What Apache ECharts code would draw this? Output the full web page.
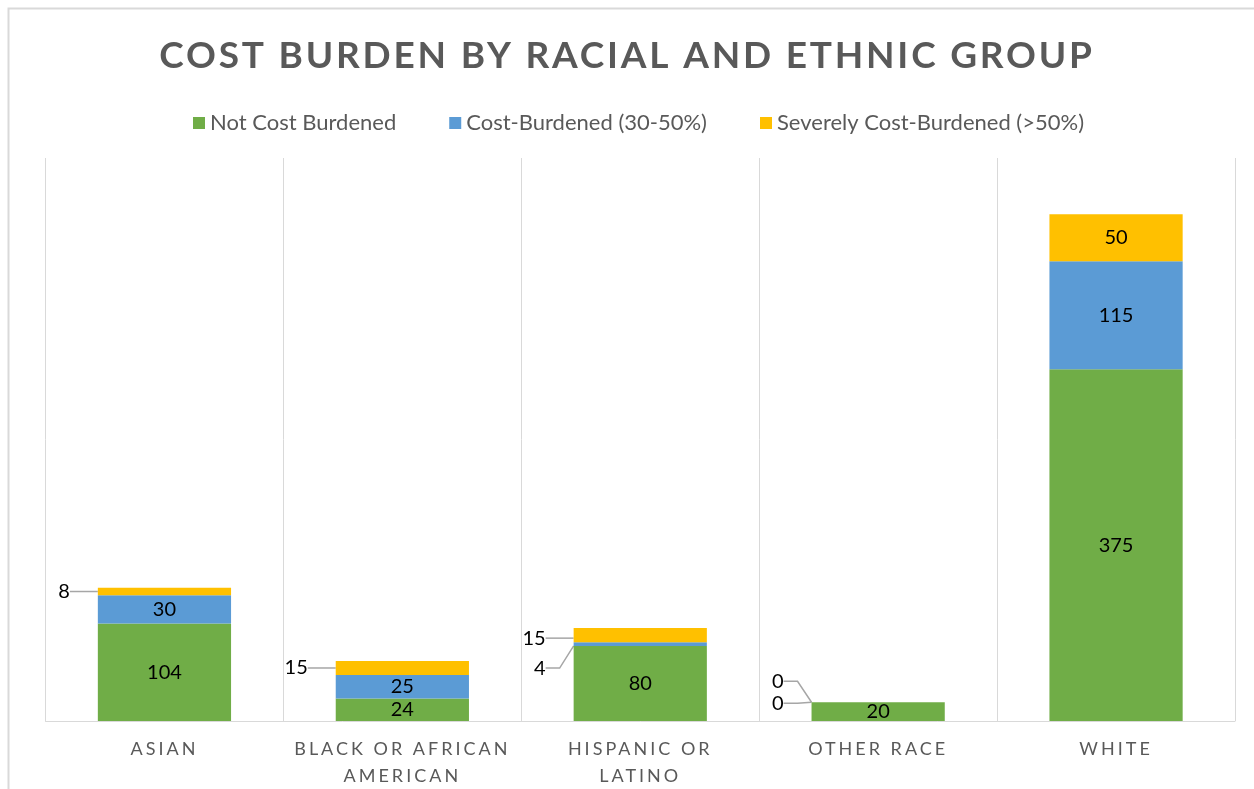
<!DOCTYPE html>
<html>
<head>
<meta charset="utf-8">
<script src="https://cdn.jsdelivr.net/npm/echarts@6/dist/echarts.min.js"></script>
<style>
html,body{margin:0;padding:0;background:#fff;}
#chart{width:1254px;height:789px;}
</style>
</head>
<body>
<div id="chart"></div>
<script>
// ---- data ----
const categories = ['ASIAN', 'BLACK OR AFRICAN\nAMERICAN', 'HISPANIC OR\nLATINO', 'OTHER RACE', 'WHITE'];
const seriesNames = ['Not Cost Burdened', 'Cost-Burdened (30-50%)', 'Severely Cost-Burdened (>50%)'];
const notBurdened = [104, 24, 80, 20, 375];
const costBurdened = [30, 25, 4, 0, 115];
const severelyBurdened = [8, 15, 15, 0, 50];
const chartTitle = 'COST BURDEN BY RACIAL AND ETHNIC GROUP';

// ---- letter spacing for title and category labels (canvas) ----
const TITLE_SIZE = 37, AXIS_SIZE = 18;
const TITLE_LS = '2.8px', AXIS_LS = '3px';
(function () {
  const proto = CanvasRenderingContext2D.prototype;
  const orig = proto.fillText;
  proto.fillText = function () {
    const f = this.font || '';
    let ls = '0px';
    if (f.indexOf(TITLE_SIZE + 'px') >= 0) ls = TITLE_LS;
    else if (f.indexOf(AXIS_SIZE + 'px') >= 0) ls = AXIS_LS;
    this.letterSpacing = ls;
    const r = orig.apply(this, arguments);
    this.letterSpacing = '0px';
    return r;
  };
})();

const colors = ['#70ad47', '#5b9bd5', '#ffc000'];
const allValues = [notBurdened, costBurdened, severelyBurdened];
const OUTSIDE_LIMIT = 20;
// vertical nudges of outside labels: "series-dataIndex" -> px
const labelNudge = { '1-2': 24, '1-3': 1, '2-2': 3, '2-3': -21 };

function buildData(values) {
  return values.map(function (v) {
    const outside = v < OUTSIDE_LIMIT;
    return {
      value: v,
      label: outside ? { padding: [0, 8, 0, 0] } : {},
      labelLine: { show: outside }
    };
  });
}

const chart = echarts.init(document.getElementById('chart'), null, { renderer: 'canvas' });
const FONT = 'Lato';

chart.setOption({
  animation: false,
  backgroundColor: '#ffffff',
  title: {
    text: chartTitle,
    left: 'center',
    top: 36,
    padding: 0,
    textStyle: { fontFamily: FONT, fontSize: TITLE_SIZE, fontWeight: 'bold', color: '#595959', lineHeight: 40 }
  },
  legend: {
    data: seriesNames,
    top: 111,
    left: 193,
    padding: 0,
    itemWidth: 12,
    itemHeight: 12,
    itemGap: 53,
    icon: 'rect',
    textStyle: { fontFamily: FONT, fontSize: 22, color: '#595959', lineHeight: 24 }
  },
  grid: { left: 45.5, right: 19, top: 158, bottom: 68, containLabel: false, outerBoundsMode: 'none' },
  xAxis: {
    type: 'category',
    data: categories,
    axisLine: { show: true, lineStyle: { color: '#d9d9d9', width: 1 } },
    axisTick: { show: false },
    splitLine: { show: true, interval: 0, lineStyle: { color: '#d9d9d9', width: 1 } },
    axisLabel: { interval: 0, margin: 15, fontFamily: FONT, fontSize: AXIS_SIZE, color: '#595959', lineHeight: 27 }
  },
  yAxis: {
    type: 'value',
    min: 0,
    max: 600,
    show: false,
    splitLine: { show: false }
  },
  graphic: [{
    type: 'polyline',
    shape: { points: [[8.5, 800], [8.5, 8.5], [1260, 8.5]] },
    style: { stroke: '#d9d9d9', lineWidth: 2, fill: null },
    silent: true
  }],
  series: allValues.map(function (vals, i) {
    return {
      name: seriesNames[i],
      type: 'bar',
      stack: 'total',
      barWidth: '56%',
      itemStyle: { color: colors[i] },
      label: {
        show: true,
        position: 'inside',
        fontFamily: FONT,
        fontSize: 20,
        color: '#000000'
      },
      labelLine: { show: false, length2: 14, lineStyle: { color: '#a6a6a6', width: 1.5 } },
      labelLayout: function (params) {
        const v = allValues[params.seriesIndex][params.dataIndex];
        if (v >= OUTSIDE_LIMIT) return {};
        const dy = labelNudge[params.seriesIndex + '-' + params.dataIndex] || 0;
        return {
          x: params.rect.x - 20,
          y: params.rect.y + params.rect.height / 2 + dy,
          align: 'right',
          verticalAlign: 'middle'
        };
      },
      data: buildData(vals)
    };
  })
});
</script>
</body>
</html>
